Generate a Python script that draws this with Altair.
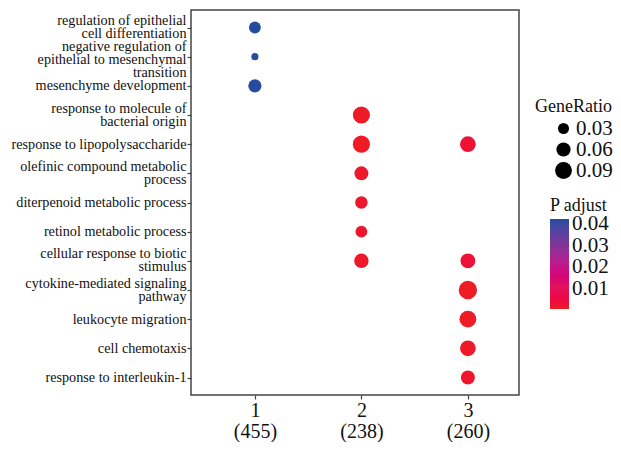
import altair as alt
import pandas as pd

# ---- data ----
terms = [
    "regulation of epithelial\ncell differentiation",
    "negative regulation of\nepithelial to mesenchymal\ntransition",
    "mesenchyme development",
    "response to molecule of\nbacterial origin",
    "response to lipopolysaccharide",
    "olefinic compound metabolic\nprocess",
    "diterpenoid metabolic process",
    "retinol metabolic process",
    "cellular response to biotic\nstimulus",
    "cytokine-mediated signaling\npathway",
    "leukocyte migration",
    "cell chemotaxis",
    "response to interleukin-1",
]
clusters = [1, 2, 3]
cluster_counts = [455, 238, 260]

point_term = [0, 1, 2, 3, 4, 4, 5, 6, 7, 8, 8, 9, 10, 11, 12]
point_cluster = [1, 1, 1, 2, 2, 3, 2, 2, 2, 2, 3, 3, 3, 3, 3]
gene_ratio = [0.036, 0.003, 0.050, 0.094, 0.094, 0.076, 0.057, 0.042, 0.036,
              0.062, 0.066, 0.110, 0.090, 0.076, 0.057]
p_adjust = [0.0423, 0.0415, 0.0420, 0.0010, 0.0009, 0.0030, 0.0015, 0.0018, 0.0020,
            0.0016, 0.0035, 0.0008, 0.0009, 0.0012, 0.0020]

# colour gradient stops (P adjust value -> colour)
padj_stops = [0.0008, 0.011, 0.021, 0.031, 0.0423]
padj_colors = ["#ee1c25", "#e3145f", "#c2168a", "#7b3699", "#234c9f"]

df = pd.DataFrame({
    "Description": [terms[i] for i in point_term],
    "Cluster": point_cluster,
    "GeneRatio": gene_ratio,
    "padj": p_adjust,
})

FONT = "Liberation Serif"
TXT = "#111111"
LINE = "#444444"
LINE_H = 13

# x-axis label expression: "1\n(455)" etc.
expr = "''"
for c, n in reversed(list(zip(clusters, cluster_counts))):
    expr = f"datum.value == {c} ? ['{c}', '({n})'] : " + expr

# vertically centre multi-line y labels on their tick
y_label_offset = {
    "condition": [
        {"test": "length(split(datum.label, '\\n')) == 3", "value": -10},
        {"test": "length(split(datum.label, '\\n')) == 2", "value": -7},
    ],
    "value": 0,
}

chart = alt.Chart(df).mark_circle(opacity=1).encode(
    x=alt.X("Cluster:Q",
            scale=alt.Scale(domain=[0.4, 3.48], nice=False, zero=False),
            axis=alt.Axis(title=None, values=clusters, labelExpr=expr, grid=False,
                          domain=False, tickColor=LINE, tickSize=4, tickWidth=1.2,
                          labelFont=FONT, labelFontSize=20, labelLineHeight=21,
                          labelColor=TXT, labelPadding=1, labelBaseline="top")),
    y=alt.Y("Description:N", sort=terms,
            scale=alt.Scale(type="point", padding=0.6),
            axis=alt.Axis(title=None, grid=False, domain=False, tickColor=LINE,
                          tickSize=4, tickWidth=1.2, labelFont=FONT, labelFontSize=14.2,
                          labelLineHeight=LINE_H, labelColor=TXT, labelPadding=1,
                          labelLimit=300, labelExpr="split(datum.label, '\\n')",
                          labelOffset=y_label_offset)),
    size=alt.Size("GeneRatio:Q",
                  scale=alt.Scale(domain=[0.03, 0.09], range=[123, 283], zero=False, clamp=False),
                  legend=alt.Legend(title="GeneRatio", orient="none", legendX=344, legendY=88,
                                    values=[0.03, 0.06, 0.09], format=".2f",
                                    symbolFillColor="black", symbolStrokeColor="black",
                                    symbolStrokeWidth=0, symbolOffset=18, labelOffset=2,
                                    titleFont=FONT, titleFontSize=18, titleFontWeight="normal",
                                    titleColor=TXT, labelFont=FONT, labelFontSize=21,
                                    labelColor=TXT, rowPadding=-2, titlePadding=2)),
    color=alt.Color("padj:Q", title="P adjust",
                    scale=alt.Scale(domain=padj_stops, range=padj_colors,
                                    zero=False, nice=False),
                    legend=alt.Legend(title="P adjust", orient="none", legendX=359, legendY=187,
                                      values=[0.01, 0.02, 0.03, 0.04], format=".2f",
                                      direction="vertical", gradientLength=90,
                                      gradientThickness=19, gradientStrokeWidth=0,
                                      titleFont=FONT, titleFontSize=18, titleFontWeight="normal",
                                      titleColor=TXT, labelFont=FONT, labelFontSize=21,
                                      labelColor=TXT, labelOffset=3, titlePadding=4)),
).properties(
    width=328, height=385,
    padding={"left": 183, "top": 2, "right": 94, "bottom": 47},
    autosize=alt.AutoSizeParams(type="none"),
).configure_view(stroke=LINE, strokeWidth=1.5)

chart.save("out.html", embed_options={"renderer": "svg", "actions": False})
